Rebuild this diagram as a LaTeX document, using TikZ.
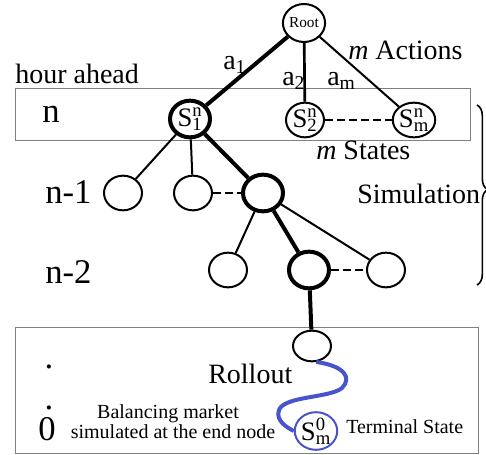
\documentclass[tikz,border=0pt]{standalone}
\usepackage{fontspec}
\setmainfont{Liberation Serif}
\usetikzlibrary{shapes.geometric,decorations.pathreplacing}

\definecolor{rollblue}{RGB}{72,84,204}

% state label with stacked super- and subscript
\newcommand{\stlabel}[3]{#1\rlap{\textsuperscript{#2}}\textsubscript{#3}}

\tikzset{
  stnode/.style={ellipse,draw,fill=white,line width=1.5pt,minimum width=28.5pt,minimum height=26pt,inner sep=0pt,font=\fontsize{20}{22}\selectfont},
  bestnode/.style={stnode,line width=3pt,minimum width=30pt,minimum height=27.5pt},
  branch/.style={line width=1.5pt},
  bestbranch/.style={line width=3pt},
  dotbranch/.style={line width=1.5pt,dash pattern={on 6pt off 3pt}},
  levelbox/.style={draw={rgb,255:red,128;green,128;blue,128},line width=0.75pt},
  lbl/.style={inner sep=0pt,font=\fontsize{21}{23}\selectfont},
  biglbl/.style={inner sep=0pt,font=\fontsize{26}{28}\selectfont},
  smalllbl/.style={inner sep=0pt,font=\fontsize{15}{17}\selectfont}
}

\begin{document}
\begin{tikzpicture}[x=0.75pt,y=0.75pt,yscale=-1,xscale=1]
\useasboundingbox (0,0) rectangle (486,454);

%Level boxes
\draw [levelbox] (15,88) rectangle (470,140) ;
\draw [levelbox] (15,327) rectangle (478,453) ;

%Tree nodes
\node [stnode,minimum width=27pt,minimum height=28.5pt,font=\fontsize{11.5}{13}\selectfont] (root) at (304,23) {Root};
\node [bestnode] (s1) at (190,119) {\stlabel{S}{n}{1}};
\node [stnode] (s2) at (305,120) {\stlabel{S}{n}{2}};
\node [stnode] (sm) at (414,120) {\stlabel{S}{n}{m}};
% level n-1
\node [stnode] (c1) at (123,193) {};
\node [stnode] (c2) at (193,193) {};
\node [bestnode] (c3) at (263,193) {};
% level n-2
\node [stnode] (g1) at (228,270) {};
\node [bestnode] (g2) at (309,270) {};
\node [stnode] (g3) at (386,270) {};
% rollout
\node [stnode,minimum height=23pt] (roll) at (312,346) {};
\node [stnode,draw=rollblue,minimum width=27pt,minimum height=27pt] (term) at (316,431) {\stlabel{S}{0}{m}};

%Straight Lines
\draw [bestbranch] (root) -- (s1) ;
\draw [branch,line width=2pt] (root) -- (s2) ;
\draw [branch] (root) -- (sm) ;
\draw [dotbranch] (s2) -- (sm) ;
\draw [branch] (s1) -- (c1) ;
\draw [branch] (s1) -- (c2) ;
\draw [bestbranch] (s1) -- (c3) ;
\draw [dotbranch] (c2) -- (c3) ;
\draw [branch] (c3) -- (g1) ;
\draw [bestbranch] (c3) -- (g2) ;
\draw [branch] (c3) -- (g3) ;
\draw [dotbranch] (g2) -- (g3) ;
\draw [bestbranch] (g2) -- (roll) ;
%Rollout curve
\draw [rollblue,line width=3pt] (roll.-75) .. controls (345,366) and (352,378) .. (342,388) .. controls (330,398) and (284,396) .. (279,410) .. controls (275,421) and (288,428) .. (term.west) ;

%Brace
\coordinate (bracetop) at (477,105);
\coordinate (bracebot) at (477,285);
\draw [line width=1.2pt,decorate,decoration={brace,amplitude=8pt,aspect=0.47}] (bracetop) -- (bracebot) ;

% Text Node
\node [lbl,anchor=base west] (hour) at (15,83) {hour ahead};
\node [biglbl,anchor=base west] (lvn) at (42,122) {n};
\node [biglbl,anchor=base west] (lvn1) at (45,203) {n-1};
\node [biglbl,anchor=base west] (lvn2) at (45,283) {n-2};
\node [lbl,anchor=base west] (acts) at (348,59) {\textit{m} Actions};
\node [lbl,anchor=base west] (act1) at (223,69) {a\textsubscript{1}};
\node [lbl,anchor=base west] (act2) at (282,85) {a\textsubscript{2}};
\node [lbl,anchor=base west] (actm) at (327,85) {a\textsubscript{m}};
\node [lbl,anchor=base west] (sts) at (316,159) {\textit{m} States};
\node [lbl,anchor=base west] (sim) at (357,203) {Simulation};
\node [lbl,anchor=base west] (roltxt) at (208,383) {Rollout};
\node [biglbl,anchor=base] (dot1) at (49,368) {.};
\node [biglbl,anchor=base] (dot2) at (49,409) {.};
\node [biglbl,anchor=base west] (zero) at (38,440) {0};
\node [smalllbl,anchor=base] (bal1) at (168,418) {Balancing market};
\node [smalllbl,anchor=base] (bal2) at (173,438) {simulated at the end node};
\node [smalllbl,anchor=base west] (termtxt) at (346,433) {Terminal State};

\end{tikzpicture}
\end{document}
